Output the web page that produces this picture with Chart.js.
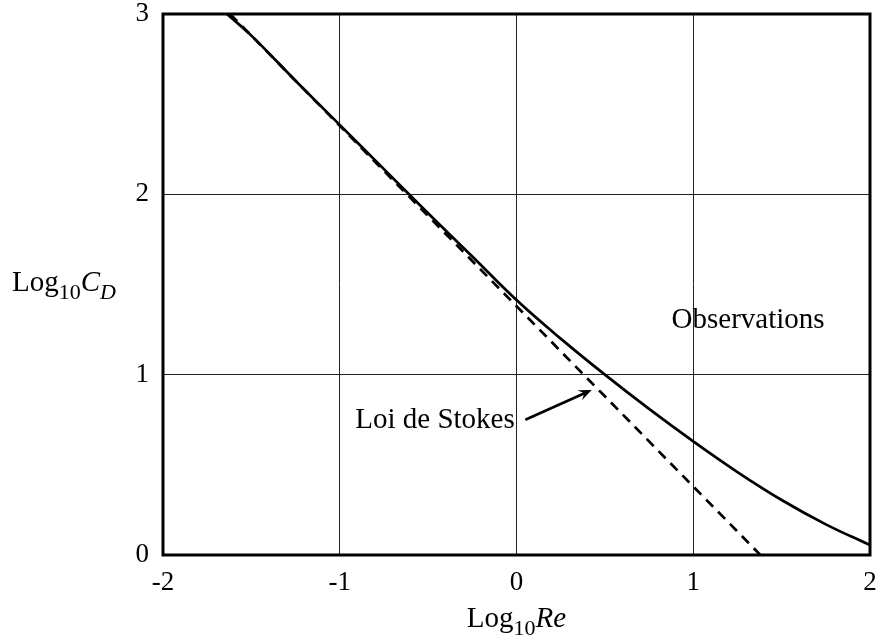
<!DOCTYPE html>
<html>
<head>
<meta charset="utf-8">
<script src="https://cdn.jsdelivr.net/npm/chart.js@4.4.1/dist/chart.umd.min.js"></script>
<style>
  html, body { margin: 0; padding: 0; background: #fff; }
  #wrap { width: 880px; height: 639px; position: relative; }
</style>
</head>
<body>
<div id="wrap"><canvas id="dragChart"></canvas></div>
<script>
// log10(Re) / log10(CD)
const logRe = [-1.638, -1.5, -1.25, -1.0, -0.75, -0.5, -0.25, 0.0, 0.25, 0.5, 0.75, 1.0, 1.25, 1.5, 1.75, 2.0];
const logCdObs = [3.0, 2.88, 2.63, 2.385, 2.14, 1.895, 1.655, 1.414, 1.20, 1.00, 0.81, 0.63, 0.46, 0.305, 0.17, 0.055];
// Stokes law CD = 24/Re, straight line in log-log
const stokesRe = [-1.62, 1.38];
const stokesCd = [3.0, 0.0];
const xTicks = [-2, -1, 0, 1, 2];
const yTicks = [0, 1, 2, 3];

const SERIF = '"Liberation Serif", "DejaVu Serif", serif';

const toPoints = (xs, ys) => xs.map((x, i) => ({ x: x, y: ys[i] }));

// draws a run of text pieces, some italic, some subscript
function drawPieces(ctx, x, y, pieces, size, align) {
  const fontFor = p => (p.italic ? 'italic ' : '') + (p.sub ? Math.round(size * 0.76) : size) + 'px ' + SERIF;
  let total = 0;
  pieces.forEach(p => { ctx.font = fontFor(p); total += ctx.measureText(p.t).width; });
  let cx = align === 'center' ? x - total / 2 : x;
  ctx.textBaseline = 'alphabetic';
  ctx.textAlign = 'left';
  pieces.forEach(p => {
    ctx.font = fontFor(p);
    ctx.fillText(p.t, cx, p.sub ? y + size * 0.28 : y);
    cx += ctx.measureText(p.t).width;
  });
}

const decorations = {
  id: 'decorations',
  afterDraw(chart) {
    const { ctx, chartArea: a, scales: { x, y } } = chart;
    ctx.save();
    ctx.fillStyle = '#000';
    ctx.strokeStyle = '#000';

    // frame
    ctx.lineWidth = 3;
    ctx.strokeRect(a.left, a.top, a.right - a.left, a.bottom - a.top);

    // axis titles
    drawPieces(ctx, x.getPixelForValue(0), 627, [
      { t: 'Log' }, { t: '10', sub: true }, { t: 'Re', italic: true }
    ], 29, 'center');
    drawPieces(ctx, 12, 291, [
      { t: 'Log' }, { t: '10', sub: true }, { t: 'C', italic: true }, { t: 'D', italic: true, sub: true }
    ], 29, 'left');

    // annotations
    ctx.font = '29px ' + SERIF;
    ctx.textBaseline = 'middle';
    ctx.textAlign = 'center';
    ctx.fillText('Observations', x.getPixelForValue(1.31), y.getPixelForValue(1.30));
    ctx.textAlign = 'right';
    ctx.fillText('Loi de Stokes', x.getPixelForValue(-0.01), y.getPixelForValue(0.745));

    // arrow
    const x0 = x.getPixelForValue(0.05), y0 = y.getPixelForValue(0.75);
    const x1 = x.getPixelForValue(0.425), y1 = y.getPixelForValue(0.915);
    const ang = Math.atan2(y1 - y0, x1 - x0);
    ctx.lineWidth = 2.6;
    ctx.beginPath();
    ctx.moveTo(x0, y0);
    ctx.lineTo(x1 - 6 * Math.cos(ang), y1 - 6 * Math.sin(ang));
    ctx.stroke();
    ctx.beginPath();
    ctx.moveTo(x1, y1);
    ctx.lineTo(x1 - 13 * Math.cos(ang) + 5.5 * Math.sin(ang), y1 - 13 * Math.sin(ang) - 5.5 * Math.cos(ang));
    ctx.lineTo(x1 - 8 * Math.cos(ang), y1 - 8 * Math.sin(ang));
    ctx.lineTo(x1 - 13 * Math.cos(ang) - 5.5 * Math.sin(ang), y1 - 13 * Math.sin(ang) + 5.5 * Math.cos(ang));
    ctx.closePath();
    ctx.fill();
    ctx.restore();
  }
};

new Chart(document.getElementById('dragChart'), {
  type: 'scatter',
  data: {
    datasets: [
      {
        label: 'Observations',
        data: toPoints(logRe, logCdObs),
        showLine: true,
        borderColor: '#000',
        borderWidth: 2.7,
        pointRadius: 0,
        tension: 0.4
      },
      {
        label: 'Loi de Stokes',
        data: toPoints(stokesRe, stokesCd),
        showLine: true,
        borderColor: '#000',
        borderWidth: 2.7,
        borderDash: [10, 7],
        pointRadius: 0
      }
    ]
  },
  options: {
    responsive: true,
    maintainAspectRatio: false,
    animation: false,
    layout: { padding: { top: 14, right: 10, left: 0, bottom: 0 } },
    plugins: {
      legend: { display: false },
      tooltip: { enabled: false }
    },
    scales: {
      x: {
        type: 'linear',
        min: -2, max: 2,
        afterBuildTicks: s => { s.ticks = xTicks.map(v => ({ value: v })); },
        afterFit: s => { s.height = 84; s.paddingLeft = 0; s.paddingRight = 0; },
        grid: { color: '#222', lineWidth: 1, drawTicks: false },
        border: { display: false },
        ticks: { color: '#000', padding: 12, font: { family: SERIF, size: 27 }, maxRotation: 0 }
      },
      y: {
        type: 'linear',
        min: 0, max: 3,
        afterBuildTicks: s => { s.ticks = yTicks.map(v => ({ value: v })); },
        afterFit: s => { s.width = 163; s.paddingTop = 0; s.paddingBottom = 0; },
        grid: { color: '#222', lineWidth: 1, drawTicks: false },
        border: { display: false },
        ticks: { color: '#000', padding: 14, font: { family: SERIF, size: 27 } }
      }
    }
  },
  plugins: [decorations]
});
</script>
</body>
</html>
